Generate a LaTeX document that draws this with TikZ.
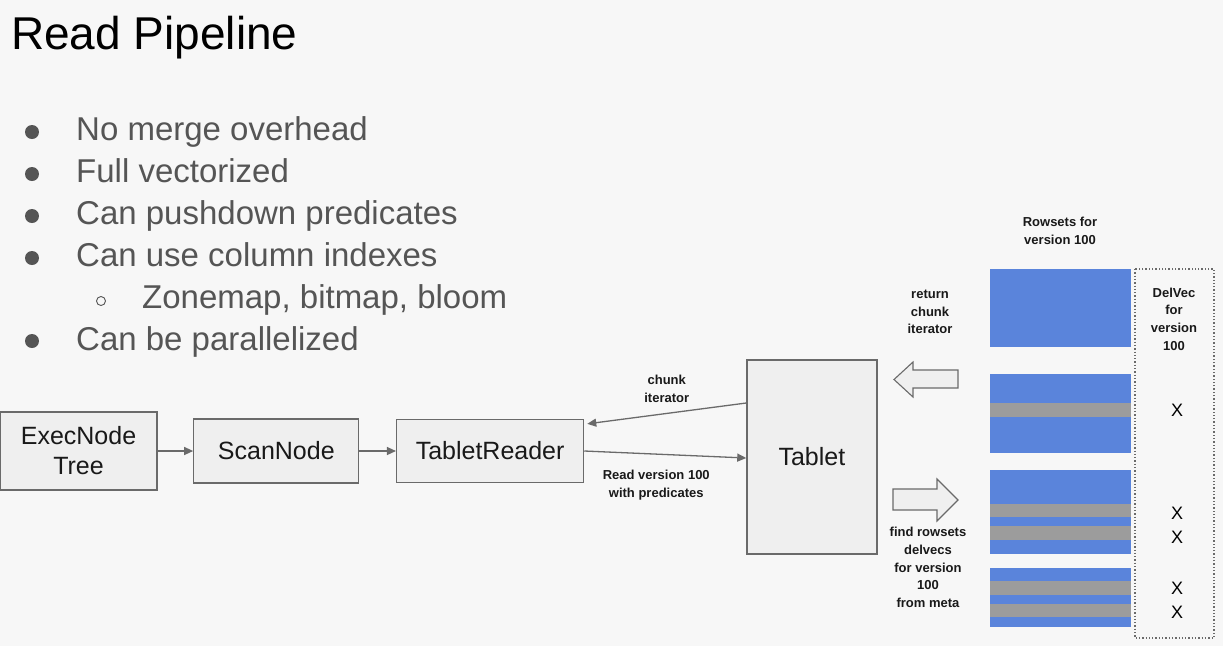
\documentclass[tikz,border=0pt]{standalone}
\usepackage{fontspec}
\setmainfont{Liberation Sans}
\usetikzlibrary{arrows.meta,positioning}
\definecolor{bgcol}{HTML}{F7F7F7}
\definecolor{boxfill}{HTML}{EFEFEF}
\definecolor{boxline}{HTML}{6A6A6A}
\definecolor{bulletgray}{HTML}{555555}
\definecolor{rowblue}{HTML}{5A84DB}
\definecolor{rowgray}{HTML}{9C9C9C}

\begin{document}
\begin{tikzpicture}[x=1pt, y=-1pt, >={Triangle[length=9pt,width=8pt]},
    box/.style={draw=boxline, fill=boxfill, line width=1.3pt, align=center,
                font=\fontsize{25}{30}\selectfont, text=black!90},
    lbl/.style={align=center, inner sep=1pt, text=black!90,
                font=\bfseries\fontsize{13}{17.7}\selectfont},
    item/.style={anchor=base west, inner sep=0pt, text=bulletgray,
                 font=\fontsize{33}{38}\selectfont},
    dot/.style={circle, fill=bulletgray, inner sep=0pt, minimum size=14pt},
    xmark/.style={font=\fontsize{18}{20}\selectfont},
    link/.style={->, draw=boxline, line width=1.3pt}]
        % Background
        \fill[bgcol] (0,0) rectangle (1223,646);
        \useasboundingbox (0,0) rectangle (1223,646);

        % Title
        \node[anchor=base west, inner sep=0pt, font=\fontsize{46}{55}\selectfont]
            (title) at (11,49) {Read Pipeline};

        % Bullets
        \node[dot] (d1) at (32,132) {};
        \node[item] (b1) at (76,140) {No merge overhead};
        \node[dot] (d2) at (32,174) {};
        \node[item] (b2) at (76,182) {Full vectorized};
        \node[dot] (d3) at (32,216) {};
        \node[item] (b3) at (76,224) {Can pushdown predicates};
        \node[dot] (d4) at (32,258) {};
        \node[item] (b4) at (76,266) {Can use column indexes};
        \node[circle, draw=bulletgray, line width=0.9pt, inner sep=0pt,
              minimum size=9pt] (d5) at (101,301) {};
        \node[item] (b5) at (142,308) {Zonemap, bitmap, bloom};
        \node[dot] (d6) at (32,341) {};
        \node[item] (b6) at (76,350) {Can be parallelized};

        % Pipeline
        \node[box, minimum width=157pt, minimum height=78pt] (exec) at (78.5,451)
            {ExecNode\\Tree};
        \node[box, minimum width=165pt, minimum height=64pt, right=35.5pt of exec]
            (scan) {ScanNode};
        \node[box, minimum width=187pt, minimum height=63pt, right=36.5pt of scan]
            (trd) {TabletReader};
        \node[box, minimum width=130pt, minimum height=194pt, right=162pt of trd,
              yshift=-6pt] (tab) {Tablet};

        % Arrows
        \draw[link] (trd.east) -- node[lbl, below=14pt, xshift=-9pt]
            {Read version 100\\with predicates} ([yshift=-1pt]tab.west);
        \draw[link] (exec) -- (scan);
        \draw[link] (scan) -- (trd);
        \draw[link] ([yshift=54pt]tab.west) -- node[lbl, above=9pt] {chunk\\iterator}
            ([xshift=3pt,yshift=-5pt]trd.north east);

        % Rowsets
        \node[lbl] (rsl) at (1060,231) {Rowsets for\\version 100};
        \fill[rowblue] (990,269) rectangle (1131,347);
        \fill[rowblue] (990,374) rectangle (1131,453);
        \fill[rowgray] (990,403) rectangle (1131,417);
        \fill[rowblue] (990,470) rectangle (1131,554);
        \fill[rowgray] (990,504) rectangle (1131,517);
        \fill[rowgray] (990,526) rectangle (1131,540);
        \fill[rowblue] (990,568) rectangle (1131,627);
        \fill[rowgray] (990,581) rectangle (1131,595);
        \fill[rowgray] (990,604) rectangle (1131,617);

        % DelVec
        \draw[boxline, dotted, line width=1.3pt] (1135,269) rectangle (1214,638);
        \node[lbl] (dvl) at (1174,319) {DelVec\\for\\version\\100};
        \node[xmark] (x1) at (1177,410) {X};
        \node[xmark] (x2) at (1177,513) {X};
        \node[xmark] (x3) at (1177,537) {X};
        \node[xmark] (x4) at (1177,588) {X};
        \node[xmark] (x5) at (1177,612) {X};

        % Block arrows
        \filldraw[fill=boxfill, draw=boxline, line width=1.1pt]
            (894,379.5) -- (913,362) -- (913,370) -- (958,370) -- (958,388)
            -- (913,388) -- (913,397) -- cycle;
        \filldraw[fill=boxfill, draw=boxline, line width=1.1pt]
            (893,489) -- (937,489) -- (937,479) -- (958,500) -- (937,521)
            -- (937,510) -- (893,510) -- cycle;
        \node[lbl] (ret) at (930,312) {return\\chunk\\iterator};
        \node[lbl] (find) at (928,567.5) {find rowsets\\delvecs\\for version\\100\\from meta};
    \end{tikzpicture}
\end{document}
